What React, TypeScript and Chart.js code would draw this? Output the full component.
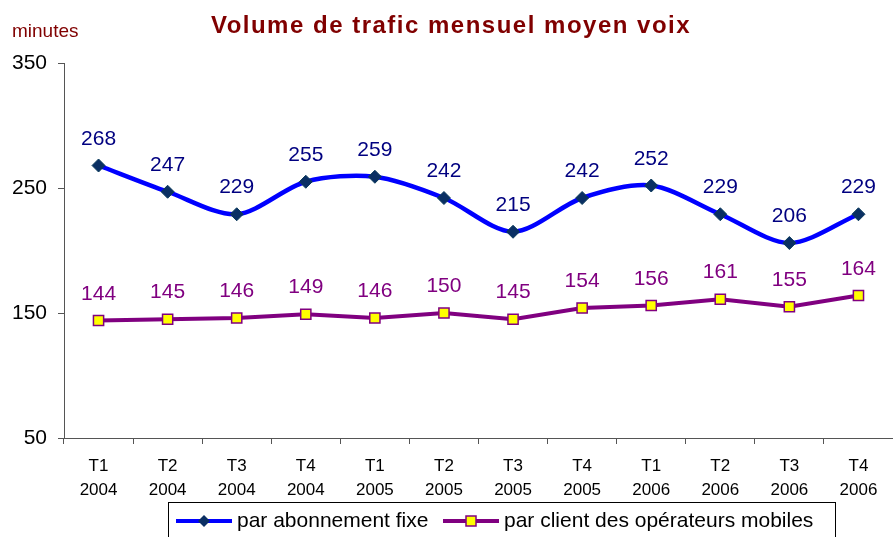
import React, { useEffect, useRef } from "react";
import { Chart, registerables } from "chart.js";

Chart.register(...registerables);

const categories: string[][] = [
  ["T1", "2004"], ["T2", "2004"], ["T3", "2004"], ["T4", "2004"],
  ["T1", "2005"], ["T2", "2005"], ["T3", "2005"], ["T4", "2005"],
  ["T1", "2006"], ["T2", "2006"], ["T3", "2006"], ["T4", "2006"],
];
const fixeValues: number[] = [268, 247, 229, 255, 259, 242, 215, 242, 252, 229, 206, 229];
const mobileValues: number[] = [144, 145, 146, 149, 146, 150, 145, 154, 156, 161, 155, 164];
const yTicks: number[] = [50, 150, 250, 350];
const titleText = "Volume de trafic mensuel moyen voix";
const yUnitText = "minutes";
const seriesNames: string[] = ["par abonnement fixe", "par client des opérateurs mobiles"];

const FONT = '"Liberation Sans", Arial, Helvetica, sans-serif';
const BLUE = "#0000FF";
const NAVY_MARK = "#0a2f63";
const PURPLE = "#800080";
const DARK_RED = "#800000";
const AXIS = "#555555";

const textPlugin = {
  id: "customText",
  afterDraw(chart: any) {
    const ctx = chart.ctx as CanvasRenderingContext2D;
    ctx.save();
    // Title
    ctx.fillStyle = DARK_RED;
    ctx.font = `bold 24px ${FONT}`;
    (ctx as any).letterSpacing = "1.5px";
    ctx.textAlign = "center";
    ctx.textBaseline = "alphabetic";
    ctx.fillText(titleText, 451, 33);
    (ctx as any).letterSpacing = "0px";
    // Unit label
    ctx.font = `19px ${FONT}`;
    ctx.textAlign = "left";
    ctx.fillText(yUnitText, 12, 37);

    // Data labels
    ctx.font = `21px ${FONT}`;
    ctx.textAlign = "center";
    const colors = ["#000080", PURPLE];
    chart.data.datasets.forEach((ds: any, di: number) => {
      const meta = chart.getDatasetMeta(di);
      ctx.fillStyle = colors[di];
      meta.data.forEach((pt: any, i: number) => {
        ctx.fillText(String(ds.data[i]), pt.x, pt.y - 21);
      });
    });

    // Legend
    ctx.strokeStyle = "#000000";
    ctx.lineWidth = 1;
    ctx.strokeRect(168.5, 502.5, 667, 60);
    const ly = 521;
    // blue sample
    ctx.strokeStyle = BLUE;
    ctx.lineWidth = 4;
    ctx.beginPath();
    ctx.moveTo(176, ly);
    ctx.lineTo(232, ly);
    ctx.stroke();
    ctx.fillStyle = NAVY_MARK;
    ctx.beginPath();
    ctx.moveTo(204, ly - 6);
    ctx.lineTo(210, ly);
    ctx.lineTo(204, ly + 6);
    ctx.lineTo(198, ly);
    ctx.closePath();
    ctx.fill();
    // purple sample
    ctx.strokeStyle = PURPLE;
    ctx.lineWidth = 4;
    ctx.beginPath();
    ctx.moveTo(443, ly);
    ctx.lineTo(499, ly);
    ctx.stroke();
    ctx.fillStyle = "#FFFF00";
    ctx.fillRect(466, ly - 5, 10, 10);
    ctx.strokeStyle = PURPLE;
    ctx.lineWidth = 1.5;
    ctx.strokeRect(466, ly - 5, 10, 10);
    // legend text
    ctx.fillStyle = "#000000";
    ctx.font = `21px ${FONT}`;
    ctx.textAlign = "left";
    ctx.textBaseline = "middle";
    ctx.fillText(seriesNames[0], 237, ly);
    ctx.fillText(seriesNames[1], 504, ly);
    ctx.restore();
  },
};

export default function App() {
  const ref = useRef<HTMLCanvasElement | null>(null);
  useEffect(() => {
    if (!ref.current) return;
    const chart = new Chart(ref.current, {
      type: "line",
      data: {
        labels: categories,
        datasets: [
          {
            label: seriesNames[0],
            data: fixeValues,
            borderColor: BLUE,
            borderWidth: 4.5,
            tension: 0.3,
            pointStyle: "rectRot",
            pointRadius: 6.5,
            pointBackgroundColor: NAVY_MARK,
            pointBorderColor: "#0a3a5a",
            pointBorderWidth: 1,
            fill: false,
          },
          {
            label: seriesNames[1],
            data: mobileValues,
            borderColor: PURPLE,
            borderWidth: 4,
            tension: 0,
            pointStyle: "rect",
            pointRadius: 7.2,
            pointBackgroundColor: "#FFFF00",
            pointBorderColor: PURPLE,
            pointBorderWidth: 1.5,
            fill: false,
          },
        ],
      },
      options: {
        responsive: false,
        animation: false,
        layout: { autoPadding: false, padding: { top: 63, left: 0, right: -2, bottom: 0 } },
        plugins: {
          legend: { display: false },
          title: { display: false },
          tooltip: { enabled: false },
        },
        scales: {
          x: {
            offset: true,
            grid: {
              offset: true,
              drawOnChartArea: false,
              drawTicks: true,
              tickLength: 6,
              color: AXIS,
            },
            border: { display: true, color: AXIS, width: 1 },
            ticks: {
              color: "#000000",
              font: { family: FONT, size: 17, lineHeight: 1.41 },
              padding: 10,
              maxRotation: 0,
              autoSkip: false,
            },
            afterFit(scale: any) {
              scale.height = 99;
              scale.paddingLeft = 0;
              scale.paddingRight = 0;
            },
          },
          y: {
            min: 50,
            max: 350,
            afterBuildTicks(scale: any) {
              scale.ticks = yTicks.map((v) => ({ value: v }));
            },
            grid: {
              drawOnChartArea: false,
              drawTicks: true,
              tickLength: 6,
              color: AXIS,
            },
            border: { display: true, color: AXIS, width: 1 },
            ticks: {
              color: "#000000",
              font: { family: FONT, size: 21 },
              padding: 11,
            },
            afterFit(scale: any) {
              scale.width = 64;
            },
          },
        },
      },
      plugins: [textPlugin],
    });
    return () => chart.destroy();
  }, []);
  return (
    <div style={{ position: "fixed", left: 0, top: 0, width: 893, height: 537, background: "#ffffff" }}>
      <canvas ref={ref} width={893} height={537} style={{ display: "block" }} />
    </div>
  );
}
